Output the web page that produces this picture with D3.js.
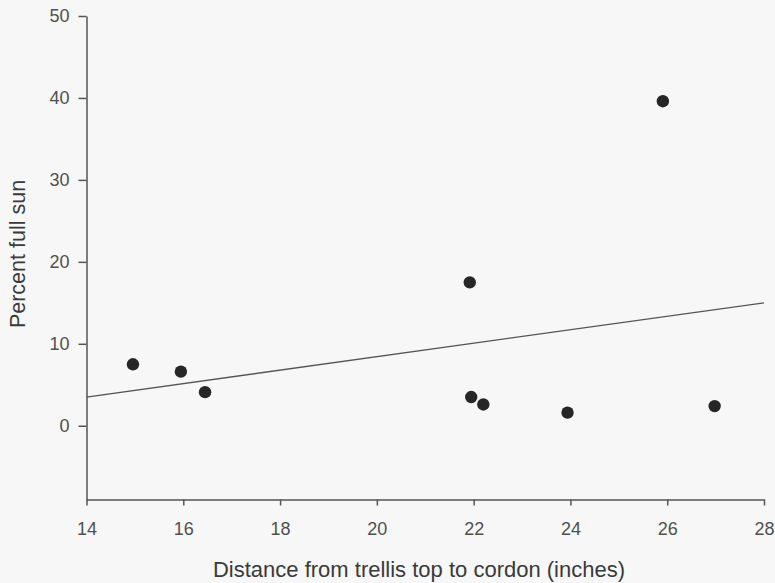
<!DOCTYPE html>
<html>
<head>
<meta charset="utf-8">
<script src="https://cdn.jsdelivr.net/npm/d3@7"></script>
<style>
  html, body { margin: 0; padding: 0; background: #f7f7f7; }
  svg { display: block; }
</style>
</head>
<body>
<svg id="chart" width="775" height="583"></svg>
<script>
// Data
const xValues = [14.96, 15.95, 16.45, 21.92, 21.95, 22.2, 23.94, 25.91, 26.98];
const yValues = [7.5, 6.6, 4.1, 17.5, 3.5, 2.6, 1.6, 39.6, 2.4];
const fitLine = [[14, 3.5], [28, 15.0]];
const xTicks = [14, 16, 18, 20, 22, 24, 26, 28];
const yTicks = [0, 10, 20, 30, 40, 50];
const xTitle = "Distance from trellis top to cordon (inches)";
const yTitle = "Percent full sun";

const svg = d3.select("#chart");
const mLeft = 86.5, mRight = 764, mTop = 16, mBottom = 499.5;

const x = d3.scaleLinear().domain([14, 28]).range([mLeft, mRight]);
const y = d3.scaleLinear().domain([-9, 50]).range([mBottom, mTop]);

const axisColor = "#555";
const textColor = "#505050";
const fontFam = "'Liberation Sans', Arial, sans-serif";

// X axis
const gx = svg.append("g").attr("transform", `translate(0,${mBottom})`)
  .call(d3.axisBottom(x).tickValues(xTicks).tickSize(6).tickSizeOuter(0).tickPadding(16.5));
gx.select(".domain").attr("stroke", axisColor).attr("stroke-width", 1.5);
gx.selectAll(".tick line").attr("stroke", axisColor).attr("stroke-width", 1.5);
gx.selectAll(".tick text").attr("fill", textColor)
  .style("font-family", fontFam).style("font-size", "18px");

// Y axis
const gy = svg.append("g").attr("transform", `translate(${mLeft},0)`)
  .call(d3.axisLeft(y).tickValues(yTicks).tickSize(8).tickSizeOuter(0).tickPadding(9));
gy.select(".domain").attr("stroke", axisColor).attr("stroke-width", 1.5);
gy.selectAll(".tick line").attr("stroke", axisColor).attr("stroke-width", 1.5);
gy.selectAll(".tick text").attr("fill", textColor)
  .style("font-family", fontFam).style("font-size", "18px");

// Regression line
svg.append("path")
  .datum(fitLine)
  .attr("d", d3.line().x(d => x(d[0])).y(d => y(d[1])))
  .attr("fill", "none")
  .attr("stroke", "#555")
  .attr("stroke-width", 1.3);

// Points
svg.append("g").selectAll("circle")
  .data(xValues.map((v, i) => [v, yValues[i]]))
  .join("circle")
  .attr("cx", d => x(d[0]))
  .attr("cy", d => y(d[1]))
  .attr("r", 6.2)
  .attr("fill", "#262626");

// Titles
svg.append("text")
  .attr("x", 419)
  .attr("y", 577)
  .attr("text-anchor", "middle")
  .attr("fill", "#3a3a3a")
  .style("font-family", fontFam)
  .style("font-size", "22px")
  .text(xTitle);

svg.append("text")
  .attr("transform", `translate(25,254) rotate(-90)`)
  .attr("text-anchor", "middle")
  .attr("fill", "#3a3a3a")
  .style("font-family", fontFam)
  .style("font-size", "21.5px")
  .text(yTitle);
</script>
</body>
</html>
